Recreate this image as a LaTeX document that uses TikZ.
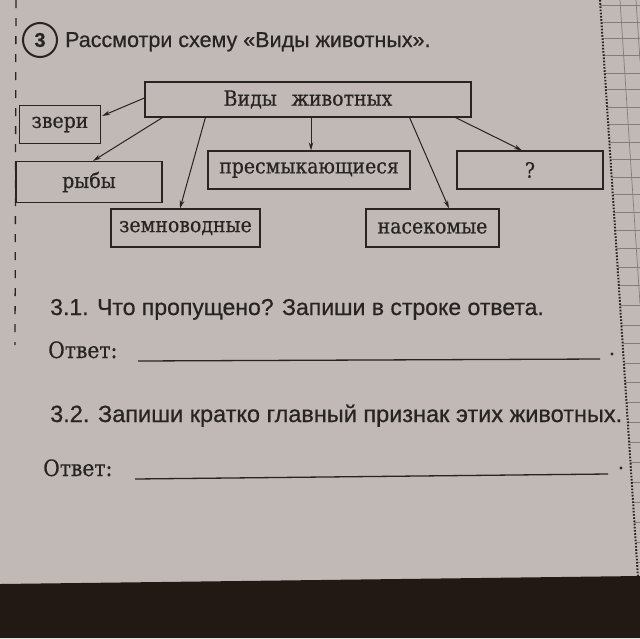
\documentclass[tikz,border=0pt]{standalone}
\usepackage{fontspec}
\setmainfont{DejaVu Serif}[FakeStretch=0.9, FakeBold=0.5]
\newfontfamily\qsans{Liberation Sans}[FakeBold=0.6]
\usetikzlibrary{calc,arrows.meta}
\definecolor{paper}{RGB}{192,185,182}
\definecolor{ink}{RGB}{40,36,34}
\definecolor{gridc}{RGB}{130,126,124}
\definecolor{wood}{RGB}{34,25,21}
\tikzset{
  box/.style={draw=ink, line width=1.2pt, text=ink, inner sep=0pt,
    font=\fontsize{21}{24}\selectfont},
  conn/.style={draw=ink, line width=1pt, -{Stealth[length=8pt,width=4.5pt]}},
  qtext/.style={anchor=base west, text=ink, inner sep=0pt,
    font=\qsans\fontsize{23}{26}\selectfont},
  anstext/.style={anchor=base west, text=ink, inner sep=0pt,
    font=\fontsize{22.5}{25}\selectfont},
  ansline/.style={draw=ink, line width=1.3pt},
}
\begin{document}
\begin{tikzpicture}[x=1pt,y=-1pt]
\useasboundingbox (0,0) rectangle (640,638);
% paper and table
\fill[paper] (0,0) rectangle (640,638);
\fill[wood] (0,584) -- (640,576) -- (640,638) -- (0,638) -- cycle;
% right grid strip
\foreach \yy in {5,22,38,55,73,89,107,124,142,159,177,194,212,230,248,267,285,305,325,343,363,382,402,422,442,462,482,502,522,542,562}
  {\draw[gridc, line width=0.7pt] ({600+0.0659*\yy},\yy) -- (640,\yy);}
\draw[gridc, line width=0.7pt] (620,0) -- (640,304);
\draw[gridc, line width=0.7pt] (636,0) -- (640,61);
\draw[ink, line width=2pt, dash pattern=on 1.6pt off 1.6pt] (600,0) -- (638,577);
% left dashed margin line
\draw[ink, line width=1.3pt, dash pattern=on 8pt off 10pt] (16,0) -- (15,345);
% title
\node[draw=ink, circle, line width=2pt, minimum size=34pt, inner sep=0pt,
  text=ink, font=\qsans\bfseries\fontsize{20}{22}\selectfont] (num) at (40,40) {3};
\node[qtext, font=\qsans\fontsize{21.5}{24}\selectfont] (title) at (65,47) {Рассмотри схему «Виды животных».};
% boxes
\node[box, minimum width=326pt, minimum height=35pt] (main) at (308,99.5) {Виды\hspace{0.7em}животных};
\node[box, minimum width=81pt, minimum height=38pt] (zveri) at (60,124.5) {звери};
\node[box, minimum width=146pt, minimum height=41pt] (ryby) at (89,182) {рыбы};
\node[box, minimum width=202pt, minimum height=38pt] (presm) at (309,170) {пресмыкающиеся};
\node[box, minimum width=146pt, minimum height=38pt] (q) at (530,170) {?};
\node[box, minimum width=149pt, minimum height=38pt] (zemn) at (185.5,228) {земноводные};
\node[box, minimum width=133pt, minimum height=38pt] (nasek) at (432.5,228) {насекомые};
% connectors
\draw[conn] ($(main.west)+(0,-1.5)$) -- ($(zveri.north east)+(1,11)$);
\draw[conn] ($(main.south west)+(18,0)$) -- ($(ryby.north)+(4,0)$);
\draw[conn] ($(main.south west)+(61,0)$) -- ($(zemn.north)+(-5.5,0)$);
\draw[conn] ($(main.south)+(3,0)$) -- ($(presm.north)+(2,0)$);
\draw[conn] ($(main.south east)+(-62,0)$) -- ($(nasek.north)+(16.5,0)$);
\draw[conn] ($(main.south east)+(-16,0)$) -- ($(q.north)+(-8,0)$);
% questions
\node[qtext] (q1) at (50,315) {3.1. Что пропущено? Запиши в строке ответа.};
\node[anstext] (a1) at (48,358) {Ответ:};
\coordinate (l1a) at (138,361);
\coordinate (l1b) at (600,359);
\draw[ansline] (l1a) -- (l1b);
\fill[ink] (612,354) circle (1.6pt);
\node[qtext, font=\qsans\fontsize{23.5}{26}\selectfont] (q2) at (50,422) {3.2. Запиши кратко главный признак этих животных.};
\node[anstext] (a2) at (43,476) {Ответ:};
\coordinate (l2a) at (135,479);
\coordinate (l2b) at (608,474);
\draw[ansline] (l2a) -- (l2b);
\fill[ink] (621,468) circle (1.6pt);
\end{tikzpicture}
\end{document}
